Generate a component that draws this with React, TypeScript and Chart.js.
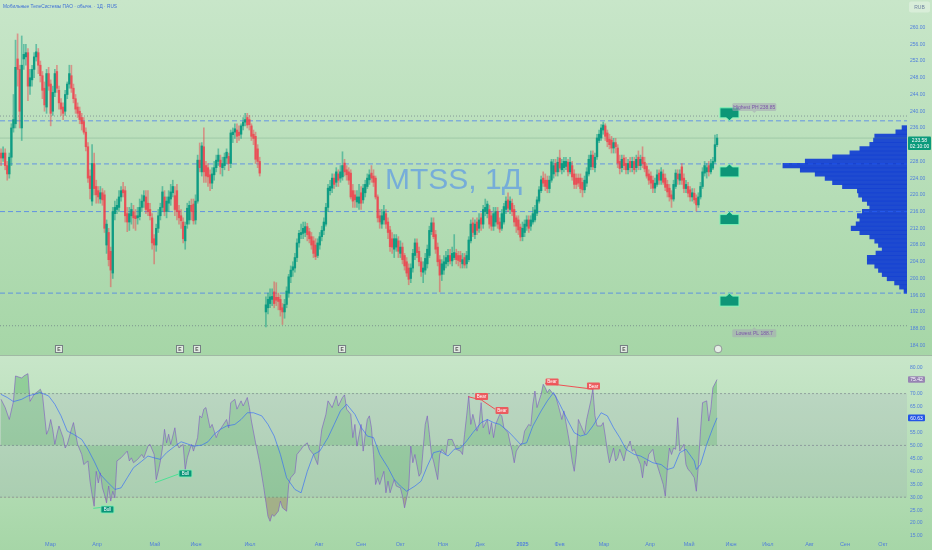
import React, { useEffect, useRef } from 'react';
import { Chart, registerables } from 'chart.js';

Chart.register(...registerables);

const FONT = 'Arial, "Liberation Sans", sans-serif';
Chart.defaults.font.family = FONT;

// ---------------- DATA ----------------
const opens = [230,228.8,230,227,225,229,236,237,252.5,250,
236,252.5,253,254,246,247.5,250,253,254,251,
248.5,245.5,241,249,246.5,240,244.5,249.5,245,242,
241,240,244,246.5,248.5,245.5,243,241,240,238.5,
237.5,235,231.5,224.5,218.5,227.5,222,221,219,220.5,
220,208,211,206.5,201.3,215.5,216.5,217,219.5,221.2,
221,215.5,213.5,215,216,215,214.5,214.8,217,218.5,
219.5,218,216.5,214.5,209.5,208,212,215,217,219.5,
216,218,219,220.5,219.8,221,216.2,215,213.5,209,
213,214,217.5,217.8,214,218.5,228.3,225.5,231.5,227,
226.5,224.8,222.8,224.8,226.5,228,228.3,226.5,227,228.8,
229.2,227.5,234.4,235,235.5,235,234.5,236.5,237.4,238.5,
238,236.5,234.5,234,231,228,null,null,192,193,
194,195,196.8,195.5,195.5,195,193,192,193.8,196.5,
200.4,202,202.5,205,208.5,210.5,210.8,211,212.4,211.2,
210,209,208,205.5,208,210,211.5,213,217,221,
221.6,224,223,225,224,224.3,227.6,226,225.5,225.2,
221,220,218.3,218,220.5,218.8,220.5,222,223.6,225.2,
224.5,224,219.5,215,213,214,215.5,213.5,211.6,209.5,
207,207.5,209,206,207.5,205.5,204,202.5,200,202.5,
205.5,208.5,206.5,204,201.5,202,203.5,205.5,211.2,213.3,
210.5,207.5,204.5,201,202,203.5,204,205.5,204.2,205,
206,205.5,205.5,203.5,205,203.5,204.5,209,213.3,210.5,
213.5,212,214.5,213,216,215.5,216.5,215,212.5,213.5,
216,213.5,212,213.5,216.5,218.8,216.5,218,216.5,214.5,
214,212.3,210,211,212.5,214,212.5,213.5,214,215.6,
218.5,221,224,223.5,223.5,221.5,223.5,225,227.5,225.5,
228.8,226,226.5,226.8,227.8,225.5,227,225,224,224,
224,223,221.2,222.8,225,226.7,229.5,226.5,229.1,233,
233.6,235.5,236.5,234.8,233.3,233.1,231.2,232.5,231.2,228,
226.5,228.8,227.5,226,228,226.5,228,226.5,229,227,
229,227.8,226.8,225,224.5,223.5,221.6,222.5,225.2,223.5,
225,224,222.5,221.6,220,219,222,225,223.5,226.7,
224,221.5,222,221.2,219.5,220.4,219.2,217.6,219.5,222,
225.2,225.5,227,225.5,226.4,228,232];

const highs = [231,231.5,231,228,230,237,244,257,258.5,251,
258,256,256,255,250,251,254,256,255,252,
249.5,247,250,250.5,247.5,246,250,251,246,243,
242,245,247,251,251,246.5,244,242,241,239.5,
238.5,236,232.5,226,232,230,223.5,222,222,221.5,
221,214,212,207.5,217,218.5,219,221,222,223,
222,217,217,218,217.5,216.5,217,219,220,221,
221,221,218,215.5,210.5,213,216.5,218,222,221,
219.5,221,222.5,223.5,222,222.5,217.5,216.5,214.5,213.5,
218,218.5,219,219,220,229.5,232.4,232.5,236,228,
227.5,226,226.5,228,229.5,231,229.5,229,230,231,
230,235.5,236,237,237,236.5,237,238.5,239.5,239.5,
239,237,235.5,235,232,229,null,null,195.6,196.5,
197.5,197.5,199.2,199,196.5,196,194,195,198,201,
203,204,206,209.5,211.5,213,213.5,213.5,213.2,212,
211,210,209.5,209.5,211,212.5,214.5,218,222.5,223.5,
225,225,226.5,226,227,230.3,228.5,227,226.5,226,
222.5,221,221,222.5,222,222.5,223.5,225,226,227,
226,224.5,220,216.5,216.5,217.5,216.5,214.5,212.5,211,
210.5,210.5,210,209,208.5,206,205,203.5,203.5,207,
209.5,209.5,207.5,205,204,206,208,212.5,214.5,214.5,
211.5,208.5,205.5,204.5,205.5,206.5,207,207,207.5,210.5,
207,206.5,206.5,206,206,206.5,210,214,214.5,214,
214.5,215.5,215.5,217.5,219,218.5,217.5,216,217,217,
217,214.5,216.5,218,219.5,220.5,219.5,219,217.5,215,
215,213,213.5,214,215,215,215,217,217.5,219.5,
222,224.5,225.5,225,224.5,224.5,228.5,228.5,228.5,229,
230.7,228.5,229,229,228.5,229,228,226,225,225,
225,224,224.5,226.5,229.5,230.5,230.5,230,234.5,235.5,
236.8,237.4,237,235.5,234.5,234,233.5,233.5,232,229.5,
229.5,229.5,229,228.5,229,229,229,229.5,230.5,229.5,
231.5,229,227.5,226,225.5,224.5,224,226,226,226.5,
226,225,223.5,222.5,221,223.5,226,226,226,227.5,
225,223.5,223,222,221.5,221.5,220,220.5,223,226.5,
228,227.5,228,228.5,229,234.3,234.5];

const lows = [227,228,226,223.5,224,227,235,236,246,236,
233,250,251,242.5,244,246,248,252,249,247,
243,240,239.5,245,236.5,239,243.5,244.5,240.5,239,
238,239,243,245.5,244.5,242,239.5,238.5,237,235.5,
234.5,230.5,223,219,217.5,220,218,218,218,217.5,
211,206,203,198,200,214,215.5,216,218.5,219.5,
213.5,211.2,211.5,213,212,211.5,213,214,216,217,
215.5,215,214,207,203.5,206.5,211,214,216,215,
214.5,216,217.5,219.5,215,214,213,212,208.5,207,
212,213,214,213,213,218,225.5,224.5,223,223,
222,221,221.5,223.5,225.5,227,225,224.5,226,227.5,
225.8,226.5,232.5,233.5,232.5,233,233.5,235.5,236.5,236,
235.5,233,232,227.5,226.5,224.5,null,null,188.4,191.5,
193,193.5,193,193.5,192.5,191,189,190.5,193,195.5,
199,200.5,201.5,204,207.5,209.5,209.5,210,209,208.5,
207,205,204.5,205,207,209,210.5,212.5,216,220,
220.5,221.5,222,222,223,223.5,224.5,223.5,222.5,219,
217,217,217,216.5,216.5,218,219.5,221.5,222.5,223,
222,219,213.5,212,212,213,212,209.5,206.5,206,
205,206.5,205,205,203.5,202,200.5,198.5,199,201.5,
204.5,205,203,200.5,199,201,202.5,205,210.5,209.5,
206,203,196.8,199.5,201,202.5,203,203.5,203,204.5,
203.5,203,202.5,202.5,202.5,202.5,204,208.5,210,209.5,
210.5,211,211.5,212,215,214.5,212,211.5,211.5,212.5,
212,211,211.5,213,215.5,216,215.5,215,212.5,211,
210.5,209,209,210,211.5,211,211.5,213,213.5,215,
218,220.5,222,221,220.5,220.5,223,224,224.5,224.5,
225.5,225,225.5,226,224.5,225,223.5,221.5,221.5,222,
220.5,219.5,220.5,222,224.5,226,226,225.5,228.5,232.5,
233,234.5,233,231.5,231,230,230,230,226.5,225,
225.5,226,225,225,225.5,225.5,225,225.5,226,226,
226.5,225.5,224,222.5,221.5,220.5,220.5,222,222.5,222.5,
222.5,221,219.5,218.5,217,218.5,221.5,222.5,222.5,222.5,
220.5,220.5,219.5,218.5,218.5,218,216.1,217,219,221.5,
224.5,224,224.5,225,226,227.5,231.5];

const closes = [228.8,230,227,225,229,236,238,250.5,250,240,
251,253.6,254,246,248,250,253,254.2,251,248.5,
245,241.5,249,246,239.5,244.5,249,245.5,242,240.5,
239.5,244,246.5,249,245.5,243,240.5,239.5,238,237,
235,231.5,224,221.5,227.5,221.5,220,219.5,220.5,218.8,
212,213,204.5,202,216,217,217.5,219.5,221,220.5,
215,213.5,215.5,216.5,214.5,214.3,215,217,218.5,219.8,
216.5,216,215,208.5,208,212,215,217,220.7,216,
218.5,219.5,220.7,222,216.5,216,214.5,213.8,209.5,212.5,
216.8,217.5,216,213.8,218.5,228.3,226.5,231.7,225.5,224.5,
224.3,222.8,225,226.5,228.3,229.5,226.7,227.5,229,230.2,
227.5,234.8,235,235.8,234,234.2,236.5,237.4,238,236.7,
236.8,234,233.5,228.5,228,225.2,null,null,193.7,195,
195.6,195.7,194,194.8,194.5,192.5,192,193.8,197,200.4,
202,202.8,205,208.5,210.8,211,212,212.4,210.5,209.5,
208,206,205.2,208.5,210,211.5,213.5,217,221.6,222,
224,222.5,225.5,223.5,225.5,227,225.5,224.8,223.5,219.5,
218.5,218.8,219.5,219.5,218,221.6,222.5,224,224.8,224,
223,219.5,214.5,213.5,215,216,213,211,207.6,207.5,
209.5,209.5,206.5,207.5,204.5,203,201.3,199.8,202.5,206,
208.5,206.2,204,201.6,202.5,204.8,207,211.5,213.3,210,
207,204,200.8,203.5,204,205,205.5,204.2,206,206.2,
204.5,204.3,204,204.5,203.2,205.5,209.2,213,211,213,
211.5,214,213,216.5,217,217.8,213,212.5,215.5,216,
213,211.8,215.5,217.2,218.5,216.8,218.5,216,213.5,212.5,
211.6,209.9,212,213,214,212,214,215.5,216.4,218.8,
221.2,223.6,222.8,222,221.5,223.5,227.9,227,225.5,227.8,
226.4,227.5,228,228,225.5,227.8,224.3,222.5,222.5,222.8,
221.5,221.2,223.5,225.5,228.5,229.5,226.7,229,233.6,234.5,
236,236.7,234,232.7,232,231.2,232.5,231.5,227.6,226.3,
228.5,227,226,227.5,226.5,228,226,228.5,227,228.5,
227.5,226.2,224.5,223.5,222.8,221.6,222.8,224.8,223.5,225.5,
223,221.8,220.7,219.5,219,222.5,225.2,223.8,225,223.5,
221.5,222.5,220.4,219.5,220.5,218.8,217.6,219.5,222,225.5,
227,226.5,225.5,227.5,228,232,233.58];

const priceTicks = [184,188,192,196,200,204,208,212,216,220,224,228,232,236,240,244,248,252,256,260];
const rsiTicks = [15,20,25,30,35,40,45,50,55,60,65,70,75,80];
const monthBars = [23.9,46.4,74.4,94.2,120.3,153.7,174,193,213.6,231.5,252,269.9,291.4,313.6,332.5,352.8,370.6,390.7,407.8,426.2];
const monthLabels = ['Мар','Апр','Май','Июн','Июл','Авг','Сен','Окт','Ноя','Дек','2025','Фев','Мар','Апр','Май','Июн','Июл','Авг','Сен','Окт'];

const levelPrices = [237.7, 227.4, 216.0, 196.5];
const levelFlagDirs = ['down', 'up', 'up', 'up'];
const pivotHighPrice = 238.85;
const pivotLowPrice = 188.7;

const profilePrices = [197,198,199,200,201,202,203,204,205,206,207,208,209,210,211,212,213,214,215,216,217,218,219,220,221,222,223,224,225,226,227,228,229,230,231,232,233,234,235,236];
const profileVolumes = [2.4,6,10,16,20,23,26,32,32,25,20,23,26,30,38,45,41,38,40,36,30,32,36,39,40,52,60,66,74,86,100,82,60,46,38,30,27,26,9,4];

const eventBars = [28, 86.5, 94.7, 164.8, 220.3, 301];

const rsiSeries = [[0,67.8],[2,64.6],[4,60],[6,67],[7,76.8],[10,76],[11,76.8],[13,77.7],[14,67],[16,69.7],[18,71],[19,71.7],[20,69.7],[22,54.3],[23,56.2],[24,60],[25,56],[26,50.4],[27,54.3],[28,57.5],[30,53],[31,49],[32,50.4],[34,56.2],[35,58.8],[37,50.4],[39,46.5],[40,42.6],[42,44],[43,36.2],[44,31],[45,26.5],[46,40],[47,35.5],[48,39.4],[49,33.6],[50,31],[51,27.8],[52,34.3],[53,28.5],[54,32.3],[55,29.7],[56,44],[58,45.2],[61,47.8],[62,44],[63,45.2],[64,43.3],[66,44.6],[68,46.5],[69,45.2],[71,49.7],[72,50.4],[74,46.5],[75,36.8],[76,40],[77,44],[78,49],[79,56.2],[80,51],[81,54.3],[82,50.4],[84,56.8],[85,51],[86,49],[88,50.4],[89,40.7],[90,45.2],[92,50.4],[93,47.8],[94,50.4],[95,53],[96,61.4],[97,60.7],[98,64],[99,64.6],[101,56.8],[102,58.1],[104,53],[105,55],[107,57.5],[109,60],[110,56.8],[111,66.5],[113,67.8],[114,64],[116,67.2],[117,65.2],[119,68.5],[120,64.6],[121,59.4],[123,51],[125,43.3],[127,33.6],[129,22.6],[130,20.7],[131,23.3],[132,22.6],[134,24.6],[135,28.5],[136,25.9],[138,24.6],[139,34.9],[140,37.5],[142,39.4],[143,46.5],[145,48.5],[146,49.7],[148,51],[149,48.5],[151,46.5],[153,42.6],[154,49.7],[155,56.2],[157,62],[158,67.2],[160,64.6],[162,69.1],[163,65.2],[165,68.5],[166,69.5],[167,64],[169,62],[170,53],[171,58.1],[172,49.7],
[174,58.1],[175,47.8],[176,54.3],[177,60],[178,61.4],[179,56.8],[180,46.5],[181,34.9],[182,37.5],[183,34.9],[185,40],[186,31.7],[187,36.2],[188,31.7],[190,36.8],[191,34.3],[193,33.6],[194,30.4],[195,25.9],[197,33.6],[198,49.7],[199,43.3],[200,46.5],[202,38.1],[203,39.4],[205,58.1],[206,61.4],[207,54.3],[208,46.5],[209,44],[211,36.8],[212,46.5],[213,48.5],[215,46.5],[216,52.3],[218,52.3],[220,48.5],[222,47.8],[223,46.5],[224,54.3],[225,61.4],[226,69.1],[227,58.1],[228,62],[230,55.5],[231,58.1],[232,66.5],[233,56.8],[235,60],[236,54.3],[237,58.8],[238,53],[239,58.1],[241,62],[242,61.4],[243,56.8],[245,54.9],[246,51],[247,47.8],[248,43.3],[249,47.8],[251,50.4],[252,51],[253,55.5],[255,58.1],[256,57.5],[257,65.9],[258,71],[259,64.6],[261,69.7],[262,73.6],[263,72.3],[264,70.4],[265,71.7],[267,69.7],[268,69.1],[270,63.3],[271,60],[272,63.3],[274,54.3],[275,49.7],[276,44],[277,40],[278,46.5],[279,60],[280,58.1],[282,54.3],[283,60],[285,67.2],[286,71.7],[287,61.4],[288,57.5],[290,57.5],[291,58.8],[292,53.6],[293,47.8],[294,43.3],[296,49],[297,44],[298,45.2],[299,48.5],[301,44],[302,47.8],[304,51.7],[305,47.8],[306,48.5],[307,46.5],[309,42.6],[310,37.5],[311,44],[312,42],[313,46.5],[315,48.5],[316,44],[317,42.6],[319,37.5],[320,34.9],[321,30.4],[322,41.4],[323,49],[324,46.5],[325,49],[326,48.5],[327,60.7],[328,47.8],[330,50.4],[331,42.6],[332,40.7],[333,40],[335,37.5],[336,32.3],[337,42.6],[338,55.5],[339,66.5],[341,67.2],[342,59.4],[343,64],[344,72.3],[346,75.42]];

const rsiMaSeries = [[0,69.7],[3,68.5],[6,66.9],[10,67.8],[13,69.1],[16,69.7],[19,70.4],[23,69.1],[26,65.9],[29,61.4],[32,55.5],[35,54.3],[39,52.3],[42,48.5],[45,43.9],[48,38.8],[51,36.2],[55,33],[58,33.6],[61,37.5],[64,41.4],[68,43.9],[71,45.9],[74,45.2],[77,44.6],[80,47.2],[84,49.7],[87,51.4],[90,50.6],[93,49.7],[97,50.1],[100,51.4],[103,54.3],[106,56.2],[109,57.5],[113,58.1],[116,60],[119,62.6],[122,62.6],[126,61.4],[129,58.1],[132,53.6],[135,46.5],[138,37.5],[142,33],[145,31.7],[148,40],[151,46.5],[154,47.8],[158,53],[161,58.1],[164,63.3],[167,65.9],[171,62],[174,57],[177,53.6],[180,53],[183,46.5],[187,41.4],[190,36.8],[193,34.3],[196,32.3],[200,34.3],[203,36.2],[206,42],[209,47.2],[212,47.8],[216,45.9],[219,48.5],[222,49],[225,51.7],[228,54.9],[232,58.8],[235,60],[238,58.8],[241,58.1],[245,55.5],[248,53],[251,50.4],[254,51],[257,57.5],[261,63.3],[264,67.2],[267,70.4],[270,65.9],[274,59.4],[277,54.9],[280,53.6],[283,54.3],[286,57.5],[290,62.6],[293,61.4],[296,56.8],[299,53],[302,48.5],[306,46.5],[309,45.9],[312,44.6],[315,43.3],[319,42.6],[322,40.7],[325,41.4],[328,47.2],[331,48.5],[335,44],[336,40.7],[338,42.6],[341,50.4],[344,56.8],[346,60.63]];

const bullLines = [[44.6,25.7,51.1,26.3],[74.4,35.6,88.9,39.85]];
const bearLines = [[225.8,68.8,232.2,67.5],[232.2,67.5,238.7,64],[262.9,74,286.2,71.7]];
const bullTags = [[51.4,25.25],[89.1,39.15]];
const bearTags = [[232.2,68.9],[242.1,63.5],[266.3,74.5],[286.3,72.9]];

// ---------------- LAYOUT / STYLE ----------------
const W = 932;
const PRICE_H = 355;
const RSI_H = 195;
const X_MIN = -0.5, X_MAX = 437.8;
const P_MIN = 181.7, P_MAX = 266.6;
const R_MIN = 14.25, R_MAX = 84.9;
const FLAG_BAR = 352;
const PIVOT_LABEL_BAR = 364;
const SESSION_BAR = 346.5;
const TICK_COLOR = '#4f7fdc';
const UP = 'rgba(8,153,129,0.92)';
const DOWN = 'rgba(242,54,69,0.72)';
const UP_W = 'rgba(8,153,129,0.5)';
const DOWN_W = 'rgba(242,54,69,0.45)';

function rr(ctx: any, x: number, y: number, w: number, h: number, r: number) {
  ctx.beginPath();
  if (ctx.roundRect) ctx.roundRect(x, y, w, h, r);
  else ctx.rect(x, y, w, h);
}

const flat = (v: number) => [{ x: X_MIN, y: v }, { x: X_MAX, y: v }];

const pricePlugin = {
  id: 'priceOverlay',
  beforeDatasetsDraw(chart: any) {
    const ctx = chart.ctx;
    ctx.save();
    ctx.font = `30px ${FONT}`;
    ctx.fillStyle = 'rgba(66,133,244,0.55)';
    ctx.textBaseline = 'alphabetic';
    ctx.textAlign = 'left';
    ctx.fillText('MTSS, 1Д', 385, 188.5);
    ctx.restore();
  },
  afterDatasetsDraw(chart: any) {
    const { ctx, scales } = chart;
    const x = scales.x, y = scales.y;
    ctx.save();
    const fx = x.getPixelForValue(FLAG_BAR);
    levelPrices.forEach((p, k) => {
      const py = y.getPixelForValue(p);
      const w = 19, h = 10;
      const down = levelFlagDirs[k] === 'down';
      const l = fx - w / 2, r = fx + w / 2;
      ctx.beginPath();
      if (down) {
        const t = py - 3 - h, b = py - 3;
        ctx.moveTo(l, t); ctx.lineTo(r, t); ctx.lineTo(r, b);
        ctx.lineTo(fx + 3, b); ctx.lineTo(fx, b + 3); ctx.lineTo(fx - 3, b);
        ctx.lineTo(l, b); ctx.closePath();
      } else {
        const t = py + 3, b = py + 3 + h;
        ctx.moveTo(l, t); ctx.lineTo(fx - 3, t); ctx.lineTo(fx, t - 3); ctx.lineTo(fx + 3, t);
        ctx.lineTo(r, t); ctx.lineTo(r, b); ctx.lineTo(l, b); ctx.closePath();
      }
      ctx.fillStyle = '#0d9677';
      ctx.fill();
      ctx.strokeStyle = 'rgba(130,245,185,0.95)';
      ctx.lineWidth = 1;
      ctx.stroke();
    });
    const lx = x.getPixelForValue(PIVOT_LABEL_BAR);
    const drawPivot = (text: string, top: number, pointerUp: boolean) => {
      const w = 44, h = 8;
      rr(ctx, lx - w / 2, top, w, h, 1.5);
      ctx.fillStyle = 'rgba(165,165,180,0.55)';
      ctx.fill();
      ctx.beginPath();
      if (pointerUp) { ctx.moveTo(lx - 2, top); ctx.lineTo(lx, top - 2); ctx.lineTo(lx + 2, top); }
      else { ctx.moveTo(lx - 2, top + h); ctx.lineTo(lx, top + h + 2); ctx.lineTo(lx + 2, top + h); }
      ctx.fill();
      ctx.font = `5px ${FONT}`;
      ctx.fillStyle = '#7b55a8';
      ctx.textAlign = 'center';
      ctx.textBaseline = 'middle';
      ctx.fillText(text, lx, top + h / 2 + 0.3);
    };
    drawPivot('Highest PH ' + pivotHighPrice.toFixed(2), y.getPixelForValue(pivotHighPrice) - 13, false);
    drawPivot('Lowest PL ' + pivotLowPrice.toFixed(1), y.getPixelForValue(pivotLowPrice) + 3.5, true);
    const ey = chart.chartArea.bottom - 9.5;
    eventBars.forEach((b) => {
      const cx = x.getPixelForValue(b);
      ctx.fillStyle = 'rgba(232,238,232,0.9)';
      ctx.strokeStyle = 'rgba(110,115,125,0.9)';
      ctx.lineWidth = 1;
      ctx.fillRect(cx - 3.5, ey, 7, 7);
      ctx.strokeRect(cx - 3.5, ey, 7, 7);
      ctx.font = `bold 5px ${FONT}`;
      ctx.fillStyle = '#555';
      ctx.textAlign = 'center';
      ctx.textBaseline = 'middle';
      ctx.fillText('E', cx, ey + 3.7);
    });
    const sx = x.getPixelForValue(SESSION_BAR);
    ctx.beginPath();
    ctx.arc(sx, ey + 3.5, 3.8, 0, Math.PI * 2);
    ctx.fillStyle = 'rgba(240,242,240,0.85)';
    ctx.fill();
    ctx.strokeStyle = 'rgba(130,130,140,0.8)';
    ctx.stroke();
    ctx.restore();
  },
  afterDraw(chart: any) {
    const { ctx, scales } = chart;
    const y = scales.y;
    ctx.save();
    ctx.font = `4.8px ${FONT}`;
    ctx.fillStyle = '#3d6fd6';
    ctx.textAlign = 'left';
    ctx.textBaseline = 'middle';
    ctx.fillText('Мобильные ТелеСистемы ПАО · обычн. · 1Д · RUS', 3, 7);
    ctx.font = `5px ${FONT}`;
    rr(ctx, 909, 1.5, 21, 11, 2);
    ctx.fillStyle = 'rgba(255,255,255,0.3)';
    ctx.fill();
    ctx.fillStyle = '#6b7f9e';
    ctx.textAlign = 'center';
    ctx.fillText('RUB', 919.5, 7.2);
    const last = closes[closes.length - 1] as number;
    const top = y.getPixelForValue(last) - 1.5;
    rr(ctx, 908, top, 23, 13.5, 1);
    ctx.fillStyle = '#0a9a7b';
    ctx.fill();
    ctx.fillStyle = '#ffffff';
    ctx.fillText(last.toFixed(2), 919.5, top + 3.9);
    ctx.fillText('02:10:00', 919.5, top + 9.8);
    ctx.restore();
  },
};

const rsiPlugin = {
  id: 'rsiOverlay',
  afterDatasetsDraw(chart: any) {
    const { ctx, scales } = chart;
    const x = scales.x, y = scales.y;
    ctx.save();
    const seg = (l: number[], color: string) => {
      ctx.beginPath();
      ctx.moveTo(x.getPixelForValue(l[0]), y.getPixelForValue(l[1]));
      ctx.lineTo(x.getPixelForValue(l[2]), y.getPixelForValue(l[3]));
      ctx.strokeStyle = color;
      ctx.lineWidth = 1;
      ctx.stroke();
    };
    bullLines.forEach((l) => seg(l, 'rgba(70,225,145,0.95)'));
    bearLines.forEach((l) => seg(l, 'rgba(242,64,72,0.9)'));
    const tag = (t: number[], text: string, fill: string, stroke: string | null) => {
      const cx = x.getPixelForValue(t[0]);
      const cy = y.getPixelForValue(t[1]);
      rr(ctx, cx - 6.5, cy - 3.5, 13, 7, 1);
      ctx.fillStyle = fill;
      ctx.fill();
      if (stroke) { ctx.strokeStyle = stroke; ctx.lineWidth = 1; ctx.stroke(); }
      ctx.font = `4.5px ${FONT}`;
      ctx.fillStyle = '#ffffff';
      ctx.textAlign = 'center';
      ctx.textBaseline = 'middle';
      ctx.fillText(text, cx, cy + 0.3);
    };
    bullTags.forEach((t) => tag(t, 'Bull', '#0b9478', 'rgba(120,240,180,0.9)'));
    bearTags.forEach((t) => tag(t, 'Bear', 'rgba(240,80,86,0.92)', null));
    ctx.restore();
  },
  afterDraw(chart: any) {
    const { ctx, scales } = chart;
    const y = scales.y;
    ctx.save();
    const box = (v: number, fill: string) => {
      const cy = y.getPixelForValue(v);
      rr(ctx, 908, cy - 3.3, 17, 6.6, 1);
      ctx.fillStyle = fill;
      ctx.fill();
      ctx.font = `5px ${FONT}`;
      ctx.fillStyle = '#ffffff';
      ctx.textAlign = 'center';
      ctx.textBaseline = 'middle';
      ctx.fillText(v.toFixed(2), 916.5, cy + 0.3);
    };
    box(rsiSeries[rsiSeries.length - 1][1], 'rgba(150,128,178,0.95)');
    box(rsiMaSeries[rsiMaSeries.length - 1][1], '#2455e6');
    ctx.restore();
  },
};

function buildPriceChart(canvas: HTMLCanvasElement) {
  const bodies: any[] = [], wicks: any[] = [], bodyColors: string[] = [], wickColors: string[] = [];
  for (let i = 0; i < closes.length; i++) {
    const o = opens[i], c = closes[i], h = highs[i], l = lows[i];
    if (o == null || c == null || h == null || l == null) continue;
    const up = c >= o;
    bodies.push({ x: i, y: [o, c] });
    wicks.push({ x: i, y: [l, h] });
    bodyColors.push(up ? UP : DOWN);
    wickColors.push(up ? UP_W : DOWN_W);
  }
  const lastClose = closes[closes.length - 1] as number;
  const hLine = (v: number, color: string, dash: number[], order: number) => ({
    type: 'line', data: flat(v), borderColor: color, borderWidth: 1, borderDash: dash,
    pointRadius: 0, fill: false, xAxisID: 'x', yAxisID: 'y', order,
  });
  const datasets: any[] = [
    ...levelPrices.map((p) => hLine(p, 'rgba(41,98,255,0.6)', [5, 3], 3)),
    hLine(pivotHighPrice, 'rgba(95,105,125,0.6)', [1, 2], 3),
    hLine(pivotLowPrice, 'rgba(95,105,125,0.6)', [1, 2], 3),
    hLine(lastClose, 'rgba(110,160,130,0.35)', [], 4),
    {
      type: 'bar', indexAxis: 'y', xAxisID: 'xv', yAxisID: 'y', order: 5,
      data: profilePrices.map((p, k) => ({ x: profileVolumes[k], y: p })),
      backgroundColor: 'rgba(22,66,210,0.95)', barThickness: 4.6, grouped: false, borderWidth: 0,
    },
    {
      type: 'bar', xAxisID: 'x', yAxisID: 'y', order: 2, data: wicks,
      backgroundColor: wickColors, barThickness: 1, grouped: false, borderWidth: 0,
    },
    {
      type: 'bar', xAxisID: 'x', yAxisID: 'y', order: 1, data: bodies,
      backgroundColor: bodyColors, barThickness: 1.7, grouped: false, borderWidth: 0, minBarLength: 1,
    },
  ];
  return new Chart(canvas, {
    type: 'bar',
    data: { datasets },
    options: {
      responsive: false,
      animation: false,
      events: [],
      layout: { padding: 0 },
      plugins: { legend: { display: false }, tooltip: { enabled: false } },
      scales: {
        x: { type: 'linear', min: X_MIN, max: X_MAX, display: false, offset: false },
        xv: { type: 'linear', axis: 'x', min: 0, max: 731, reverse: true, display: false, offset: false },
        y: {
          type: 'linear', position: 'right', min: P_MIN, max: P_MAX, offset: false,
          grid: { display: false, drawTicks: false }, border: { display: false },
          afterBuildTicks: (s: any) => { s.ticks = priceTicks.map((v) => ({ value: v })); },
          afterFit: (s: any) => { s.width = 25; s.paddingTop = 0; s.paddingBottom = 0; },
          ticks: {
            padding: 3, autoSkip: false, color: TICK_COLOR, font: { size: 5, family: FONT },
            callback: (v: any) => Number(v).toFixed(2),
          },
        },
      },
    } as any,
    plugins: [pricePlugin],
  } as any);
}

function buildRsiChart(canvas: HTMLCanvasElement) {
  const rsiData = rsiSeries.map(([b, v]) => ({ x: b, y: v }));
  const maData = rsiMaSeries.map(([b, v]) => ({ x: b, y: v }));
  const band = 'rgba(110,115,130,0.55)';
  const base = { pointRadius: 0, tension: 0, borderWidth: 1 };
  const datasets: any[] = [
    { ...base, data: flat(70), borderColor: band, borderDash: [2, 2], fill: false, order: 9 },
    { ...base, data: flat(30), borderColor: band, borderDash: [2, 2], fill: 0, backgroundColor: 'rgba(126,87,194,0.09)', order: 9 },
    { ...base, data: flat(50), borderColor: band, borderDash: [2, 2], fill: false, order: 9 },
    { ...base, data: rsiData, borderWidth: 0, borderColor: 'rgba(0,0,0,0)', fill: { target: { value: 70 }, above: 'rgba(46,160,67,0.16)', below: 'rgba(0,0,0,0)' }, order: 6 },
    { ...base, data: rsiData, borderWidth: 0, borderColor: 'rgba(0,0,0,0)', fill: { target: { value: 30 }, above: 'rgba(0,0,0,0)', below: 'rgba(242,84,100,0.28)' }, order: 6 },
    { ...base, data: rsiData, borderColor: 'rgba(126,87,194,0.6)', fill: { target: { value: 50 }, above: 'rgba(46,160,67,0.2)', below: 'rgba(46,160,67,0.2)' }, order: 2 },
    { ...base, data: maData, borderColor: 'rgba(41,98,255,0.6)', fill: false, order: 1 },
  ];
  return new Chart(canvas, {
    type: 'line',
    data: { datasets },
    options: {
      responsive: false,
      animation: false,
      events: [],
      layout: { padding: 0 },
      plugins: { legend: { display: false }, tooltip: { enabled: false } },
      scales: {
        x: {
          type: 'linear', min: X_MIN, max: X_MAX, offset: false,
          grid: { display: false, drawTicks: false }, border: { display: false },
          afterBuildTicks: (s: any) => { s.ticks = monthBars.map((v) => ({ value: v })); },
          afterFit: (s: any) => { s.height = 12; s.paddingLeft = 0; s.paddingRight = 0; },
          ticks: {
            autoSkip: false, maxRotation: 0, minRotation: 0, padding: 3, color: TICK_COLOR,
            font: (c: any) => ({ size: 5.5, family: FONT, weight: monthLabels[c.index] === '2025' ? 'bold' : 'normal' }),
            callback: (_v: any, i: number) => monthLabels[i],
          },
        },
        y: {
          type: 'linear', position: 'right', min: R_MIN, max: R_MAX, offset: false,
          grid: { display: false, drawTicks: false }, border: { display: false },
          afterBuildTicks: (s: any) => { s.ticks = rsiTicks.map((v) => ({ value: v })); },
          afterFit: (s: any) => { s.width = 25; s.paddingTop = 0; s.paddingBottom = 0; },
          ticks: {
            padding: 3, autoSkip: false, color: TICK_COLOR, font: { size: 5, family: FONT },
            callback: (v: any) => Number(v).toFixed(2),
          },
        },
      },
    } as any,
    plugins: [rsiPlugin],
  } as any);
}

export default function App() {
  const priceRef = useRef<HTMLCanvasElement>(null);
  const rsiRef = useRef<HTMLCanvasElement>(null);
  useEffect(() => {
    document.body.style.margin = '0';
    const c1 = buildPriceChart(priceRef.current as HTMLCanvasElement);
    const c2 = buildRsiChart(rsiRef.current as HTMLCanvasElement);
    return () => { c1.destroy(); c2.destroy(); };
  }, []);
  const grad = 'linear-gradient(180deg, #c8e6c9 0%, #a6d6a7 100%)';
  return (
    <div style={{ position: 'relative', width: W, height: PRICE_H + RSI_H, overflow: 'hidden' }}>
      <div style={{ position: 'absolute', left: 0, top: 0, width: W, height: PRICE_H, background: grad }} />
      <div style={{ position: 'absolute', left: 0, top: PRICE_H, width: W, height: RSI_H, background: grad }} />
      <canvas ref={priceRef} width={W} height={PRICE_H} style={{ position: 'absolute', left: 0, top: 0 }} />
      <canvas ref={rsiRef} width={W} height={RSI_H} style={{ position: 'absolute', left: 0, top: PRICE_H }} />
      <div style={{ position: 'absolute', left: 0, top: PRICE_H, width: W, height: 1, background: 'rgba(110,130,120,0.45)' }} />
    </div>
  );
}
